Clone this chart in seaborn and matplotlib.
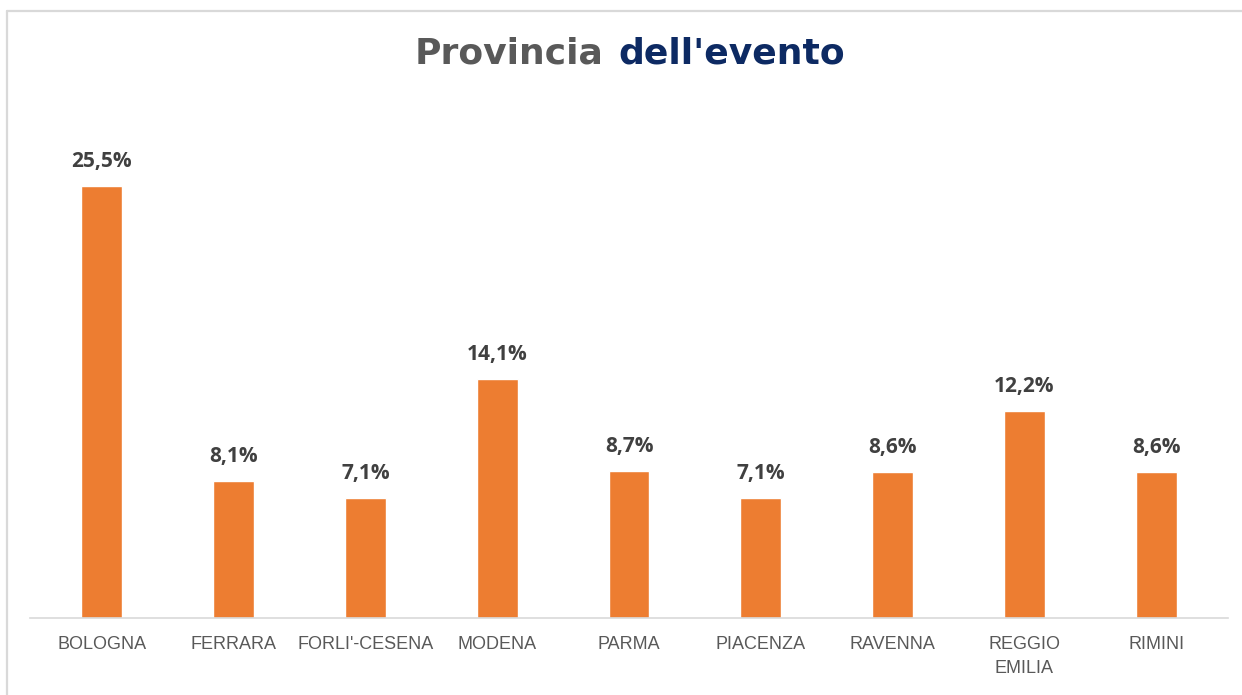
import matplotlib
matplotlib.use("Agg")
import matplotlib.pyplot as plt
from matplotlib.lines import Line2D
import seaborn as sns

# data
province = ["BOLOGNA", "FERRARA", "FORLI'-CESENA", "MODENA", "PARMA",
            "PIACENZA", "RAVENNA", "REGGIO\nEMILIA", "RIMINI"]
quota = [25.5, 8.1, 7.1, 14.1, 8.7, 7.1, 8.6, 12.2, 8.6]
etichette = [f"{v:.1f}%".replace(".", ",") for v in quota]

W, H = 1242, 695
sns.set_theme(style="white")
plt.rcParams["font.family"] = ["Liberation Sans", "DejaVu Sans"]

fig = plt.figure(figsize=(W / 100, H / 100), dpi=100)
fig.patch.set_facecolor("white")

# axes placed to match the reference pixel box
left, right, bottom, top = 30, 1228, 618, 120
ax = fig.add_axes([left / W, 1 - bottom / H, (right - left) / W, (bottom - top) / H])

sns.barplot(x=province, y=quota, color="#ED7D31", saturation=1, width=0.31, ax=ax)
ax.set_xlim(-0.545, 8.545)
ax.set_ylim(0, 29.4)

ax.bar_label(ax.containers[0], labels=etichette, padding=10,
             fontsize=15, fontweight="bold", color="#404040",
             family=["Open Sans", "DejaVu Sans"])

for s in ["left", "right", "top"]:
    ax.spines[s].set_visible(False)
ax.spines["bottom"].set_color("#d9d9d9")
ax.spines["bottom"].set_linewidth(1.2)
ax.set_yticks([])
ax.set_xlabel("")
ax.set_ylabel("")
ax.tick_params(axis="x", length=0, pad=13, labelsize=13, labelcolor="#595959")
for lab in ax.get_xticklabels():
    lab.set_linespacing(1.55)

# outer chart frame (light gray)
fig.add_artist(Line2D([7 / W, 7 / W], [0, 1 - 11 / H], color="#d9d9d9", lw=1.6))
fig.add_artist(Line2D([7 / W, 1], [1 - 11 / H, 1 - 11 / H], color="#d9d9d9", lw=1.6))

# two-colour title
ty = 1 - 54 / H
t1 = fig.text(0, ty, "Provincia", fontsize=26, fontweight="bold", color="#595959",
              va="center", family="DejaVu Sans")
t2 = fig.text(0, ty, "dell'evento", fontsize=26, fontweight="bold", color="#0D2A63",
              va="center", family="DejaVu Sans")
fig.canvas.draw()
r = fig.canvas.get_renderer()
w1 = t1.get_window_extent(r).width
w2 = t2.get_window_extent(r).width
gap = 15
x0 = 630 - (w1 + gap + w2) / 2
t1.set_x(x0 / W)
t2.set_x((x0 + w1 + gap) / W)

fig.savefig("out.png", dpi=100, facecolor="white")
